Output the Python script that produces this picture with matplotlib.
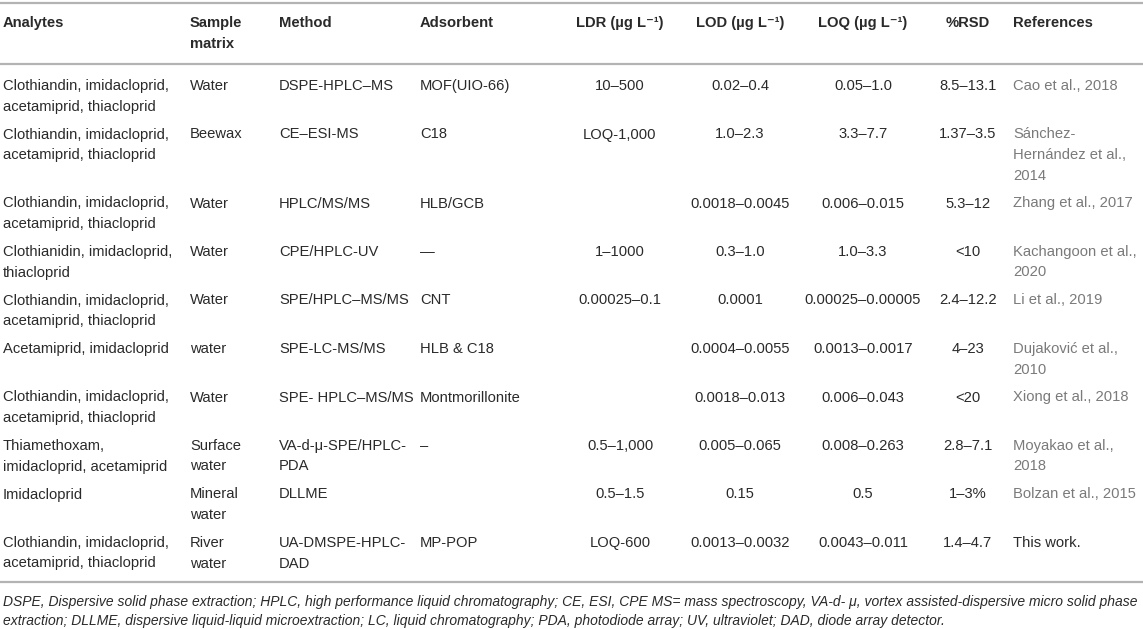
import matplotlib
matplotlib.use("Agg")
import matplotlib.pyplot as plt

plt.rcParams['font.family'] = ['Liberation Sans', 'DejaVu Sans']

W, H = 1143, 629

headers = [["Analytes"], ["Sample", "matrix"], ["Method"], ["Adsorbent"],
           ["LDR (\u00b5g L\u207b\u00b9)"], ["LOD (\u00b5g L\u207b\u00b9)"],
           ["LOQ (\u00b5g L\u207b\u00b9)"], ["%RSD"], ["References"]]

A4 = "Clothiandin, imidacloprid,\nacetamiprid, thiacloprid"

analytes = [A4, A4, A4, "Clothianidin, imidacloprid,\nthiacloprid", A4,
            "Acetamiprid, imidacloprid", A4,
            "Thiamethoxam,\nimidacloprid, acetamiprid", "Imidacloprid", A4]
sample_matrix = ["Water", "Beewax", "Water", "Water", "Water", "water", "Water",
                 "Surface\nwater", "Mineral\nwater", "River\nwater"]
method = ["DSPE-HPLC\u2013MS", "CE\u2013ESI-MS", "HPLC/MS/MS", "CPE/HPLC-UV",
          "SPE/HPLC\u2013MS/MS", "SPE-LC-MS/MS", "SPE- HPLC\u2013MS/MS",
          "VA-d-\u03bc-SPE/HPLC-\nPDA", "DLLME", "UA-DMSPE-HPLC-\nDAD"]
adsorbent = ["MOF(UIO-66)", "C18", "HLB/GCB", "\u2014", "CNT", "HLB & C18",
             "Montmorillonite", "\u2013", "", "MP-POP"]
ldr = ["10\u2013500", "LOQ-1,000", "", "1\u20131000", "0.00025\u20130.1", "", "",
       "0.5\u20131,000", "0.5\u20131.5", "LOQ-600"]
lod = ["0.02\u20130.4", "1.0\u20132.3", "0.0018\u20130.0045", "0.3\u20131.0", "0.0001",
       "0.0004\u20130.0055", "0.0018\u20130.013", "0.005\u20130.065", "0.15",
       "0.0013\u20130.0032"]
loq = ["0.05\u20131.0", "3.3\u20137.7", "0.006\u20130.015", "1.0\u20133.3",
       "0.00025\u20130.00005", "0.0013\u20130.0017", "0.006\u20130.043",
       "0.008\u20130.263", "0.5", "0.0043\u20130.011"]
rsd = ["8.5\u201313.1", "1.37\u20133.5", "5.3\u201312", "<10", "2.4\u201312.2", "4\u201323",
       "<20", "2.8\u20137.1", "1\u20133%", "1.4\u20134.7"]
references = ["Cao et al., 2018", "S\u00e1nchez-\nHern\u00e1ndez et al.,\n2014",
              "Zhang et al., 2017", "Kachangoon et al.,\n2020", "Li et al., 2019",
              "Dujakovi\u0107 et al.,\n2010", "Xiong et al., 2018",
              "Moyakao et al.,\n2018", "Bolzan et al., 2015", "This work."]

footnote = ["DSPE, Dispersive solid phase extraction; HPLC, high performance liquid chromatography; "
            "CE, ESI, CPE MS= mass spectroscopy, VA-d- \u03bc, vortex assisted-dispersive micro solid phase",
            "extraction; DLLME, dispersive liquid-liquid microextraction; LC, liquid chromatography; "
            "PDA, photodiode array; UV, ultraviolet; DAD, diode array detector."]

columns = [analytes, sample_matrix, method, adsorbent, ldr, lod, loq, rsd, references]

# layout
col_x = [3, 190, 279, 420, 620, 740, 863, 968, 1013]
col_ha = ['left', 'left', 'left', 'left', 'center', 'center', 'center', 'center', 'left']
TEXT = '#2a2a2a'
GRAY = '#7a7a7a'
LINE = '#b3b3b3'
FS = 10.6
LS = 20.5     # line spacing px
PAD = 7.5

fig = plt.figure(figsize=(W / 100, H / 100), dpi=100)
ax = fig.add_axes([0, 0, 1, 1])
ax.set_xlim(0, W)
ax.set_ylim(H, 0)
ax.axis('off')

# rules
for yl in (3, 64, 582):
    ax.plot([0, W], [yl, yl], color=LINE, lw=1.6, solid_capstyle='butt')

# header
for x, ha, lines in zip(col_x, col_ha, headers):
    for k, t in enumerate(lines):
        ax.text(x, 23 + k * LS, t, ha=ha, va='center', fontsize=FS,
                fontweight='bold', color=TEXT)

# body
y = 86
for r in range(len(analytes)):
    nmax = 1
    for c, col in enumerate(columns):
        lines = col[r].split('\n') if col[r] else []
        nmax = max(nmax, len(lines))
        color = TEXT
        if c == len(columns) - 1 and col[r] != "This work.":
            color = GRAY
        for k, t in enumerate(lines):
            ax.text(col_x[c], y + k * LS, t, ha=col_ha[c], va='center',
                    fontsize=FS, color=color)
    nmax = max(nmax, 2)
    y += nmax * LS + PAD

# footnote: fit first line to the table width
fig.canvas.draw()
renderer = fig.canvas.get_renderer()
probe = ax.text(3, 603, footnote[0], ha='left', va='center', fontsize=10,
                style='italic', color=TEXT)
wpx = probe.get_window_extent(renderer).width
probe.remove()
ffs = 10 * (W - 8) / wpx
for k, t in enumerate(footnote):
    ax.text(3, 602 + k * 19.5, t, ha='left', va='center', fontsize=ffs,
            style='italic', color=TEXT)

fig.savefig('out.png', dpi=100)
